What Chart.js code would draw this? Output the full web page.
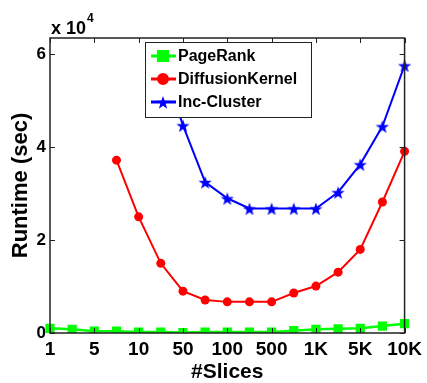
<!DOCTYPE html>
<html>
<head>
<meta charset="utf-8">
<script src="https://cdn.jsdelivr.net/npm/chart.js@4/dist/chart.umd.min.js"></script>
<style>
  html, body { margin: 0; padding: 0; background: #fff; }
  #wrap { width: 427px; height: 383px; }
</style>
</head>
<body>
<div id="wrap"><canvas id="runtimeChart"></canvas></div>
<script>
// x categories (evenly spaced in the figure); only some are labelled
const slices = ['1', '2', '5', '7', '10', '20', '50', '70', '100', '200', '500', '700', '1K', '2K', '5K', '7K', '10K'];
const shownTicks = ['1', '5', '10', '50', '100', '500', '1K', '5K', '10K'];
const yTicks = [0, 2, 4, 6];

// runtime in units of 10^4 sec
const pageRank = [0.10, 0.08, 0.04, 0.04, 0.02, 0.02, 0.01, 0.02, 0.02, 0.02, 0.02, 0.05, 0.08, 0.09, 0.10, 0.15, 0.20];
const diffusionKernel = [null, null, null, 3.72, 2.50, 1.50, 0.90, 0.71, 0.67, 0.67, 0.67, 0.86, 1.01, 1.31, 1.80, 2.82, 3.91];
const incCluster = [null, null, null, null, null, 5.90, 4.47, 3.25, 2.90, 2.68, 2.68, 2.68, 2.68, 3.03, 3.63, 4.45, 5.76];

const FONT = "'Liberation Sans', Arial, sans-serif";

// filled 5-point star for the Inc-Cluster markers
function makeStar(color, size) {
    const c = document.createElement('canvas');
    c.width = c.height = size;
    const g = c.getContext('2d');
    g.fillStyle = color;
    g.beginPath();
    for (let k = 0; k < 10; k++) {
        const r = k % 2 ? size * 0.2 : size / 2;
        const ang = -Math.PI / 2 + k * Math.PI / 5;
        g.lineTo(size / 2 + r * Math.cos(ang), size / 2 + 1 + r * Math.sin(ang));
    }
    g.closePath();
    g.fill();
    return c;
}
const star = makeStar('#0000ff', 14);

// box, inward ticks, exponent label and the in-plot legend
const framePlugin = {
    id: 'frame',
    afterDatasetsDraw(chart) {
        const {ctx, chartArea: a, scales: {x, y}} = chart;
        ctx.save();

        // legend
        const lx = 145, ly = 42, lw = 166, lh = 75;
        ctx.fillStyle = '#fff';
        ctx.fillRect(lx, ly, lw, lh);
        ctx.strokeStyle = '#222';
        ctx.lineWidth = 1;
        ctx.strokeRect(lx + 0.5, ly + 0.5, lw, lh);
        ctx.font = 'bold 16px ' + FONT;
        ctx.textBaseline = 'middle';
        chart.data.datasets.forEach((ds, i) => {
            const cy = ly + 14 + i * 23;
            ctx.strokeStyle = ds.borderColor;
            ctx.lineWidth = 3;
            ctx.beginPath();
            ctx.moveTo(lx + 6, cy);
            ctx.lineTo(lx + 31, cy);
            ctx.stroke();
            ctx.fillStyle = ds.borderColor;
            Chart.helpers.drawPoint(ctx, {
                pointStyle: ds.pointStyle,
                radius: ds.pointRadius,
                rotation: 0,
                borderWidth: 1
            }, lx + 18, cy);
            ctx.fillStyle = '#000';
            ctx.fillText(ds.label, lx + 33, cy + 1);
        });

        // frame
        ctx.strokeStyle = '#222';
        ctx.lineWidth = 1.5;
        ctx.strokeRect(a.left, a.top, a.right - a.left, a.bottom - a.top);

        // inward tick marks
        ctx.lineWidth = 1;
        ctx.beginPath();
        slices.forEach((s, i) => {
            if (!shownTicks.includes(s)) return;
            const px = Math.round(x.getPixelForTick(i)) + 0.5;
            ctx.moveTo(px, a.bottom); ctx.lineTo(px, a.bottom - 5);
            ctx.moveTo(px, a.top); ctx.lineTo(px, a.top + 5);
        });
        yTicks.forEach(v => {
            const py = Math.round(y.getPixelForValue(v)) + 0.5;
            ctx.moveTo(a.left, py); ctx.lineTo(a.left + 5, py);
            ctx.moveTo(a.right, py); ctx.lineTo(a.right - 5, py);
        });
        ctx.stroke();

        // exponent label
        ctx.fillStyle = '#000';
        ctx.textBaseline = 'alphabetic';
        ctx.font = 'bold 18px ' + FONT;
        ctx.fillText('x 10', a.left + 1, 34);
        const w = ctx.measureText('x 10').width;
        ctx.font = 'bold 12px ' + FONT;
        ctx.fillText('4', a.left + 2 + w, 22);
        ctx.restore();
    }
};

const ctx = document.getElementById('runtimeChart').getContext('2d');
const runtimeChart = new Chart(ctx, {
    type: 'line',
    data: {
        labels: slices,
        datasets: [{
            label: 'PageRank',
            data: pageRank,
            borderColor: '#00ff00',
            backgroundColor: '#00ff00',
            borderWidth: 2.5,
            pointStyle: 'rect',
            pointRadius: 6.5,
            pointBorderWidth: 0
        }, {
            label: 'DiffusionKernel',
            data: diffusionKernel,
            borderColor: '#ff0000',
            backgroundColor: '#ff0000',
            borderWidth: 2,
            pointStyle: 'circle',
            pointRadius: 4.5,
            pointBorderWidth: 0
        }, {
            label: 'Inc-Cluster',
            data: incCluster,
            borderColor: '#0000ff',
            backgroundColor: '#0000ff',
            borderWidth: 2,
            pointStyle: star,
            pointRadius: 7,
            pointBorderWidth: 0
        }]
    },
    options: {
        responsive: true,
        maintainAspectRatio: false,
        animation: false,
        layout: { padding: { top: 38, left: 0, right: 21, bottom: 0 } },
        plugins: {
            legend: { display: false },
            tooltip: { enabled: false }
        },
        scales: {
            x: {
                type: 'category',
                grid: { display: false, drawTicks: false },
                border: { display: false },
                ticks: {
                    autoSkip: false,
                    maxRotation: 0,
                    padding: 5,
                    color: '#000',
                    font: { family: FONT, size: 19, weight: 'bold' },
                    callback: (val, i) => shownTicks.includes(slices[i]) ? slices[i] : ''
                },
                title: {
                    display: true,
                    text: '#Slices',
                    color: '#000',
                    font: { family: FONT, size: 21, weight: 'bold', lineHeight: 1 },
                    padding: { top: 0, bottom: 0 }
                },
                afterFit: s => { s.height = 50; }
            },
            y: {
                min: 0,
                max: 6.35,
                grid: { display: false, drawTicks: false },
                border: { display: false },
                afterBuildTicks: s => { s.ticks = yTicks.map(v => ({ value: v })); },
                ticks: {
                    padding: 4,
                    color: '#000',
                    font: { family: FONT, size: 17, weight: 'bold' }
                },
                title: {
                    display: true,
                    text: 'Runtime (sec)',
                    color: '#000',
                    font: { family: FONT, size: 22, weight: 'bold', lineHeight: 1 },
                    padding: { top: 10, bottom: 0 }
                },
                afterFit: s => { s.width = 50; }
            }
        }
    },
    plugins: [framePlugin]
});
</script>
</body>
</html>
